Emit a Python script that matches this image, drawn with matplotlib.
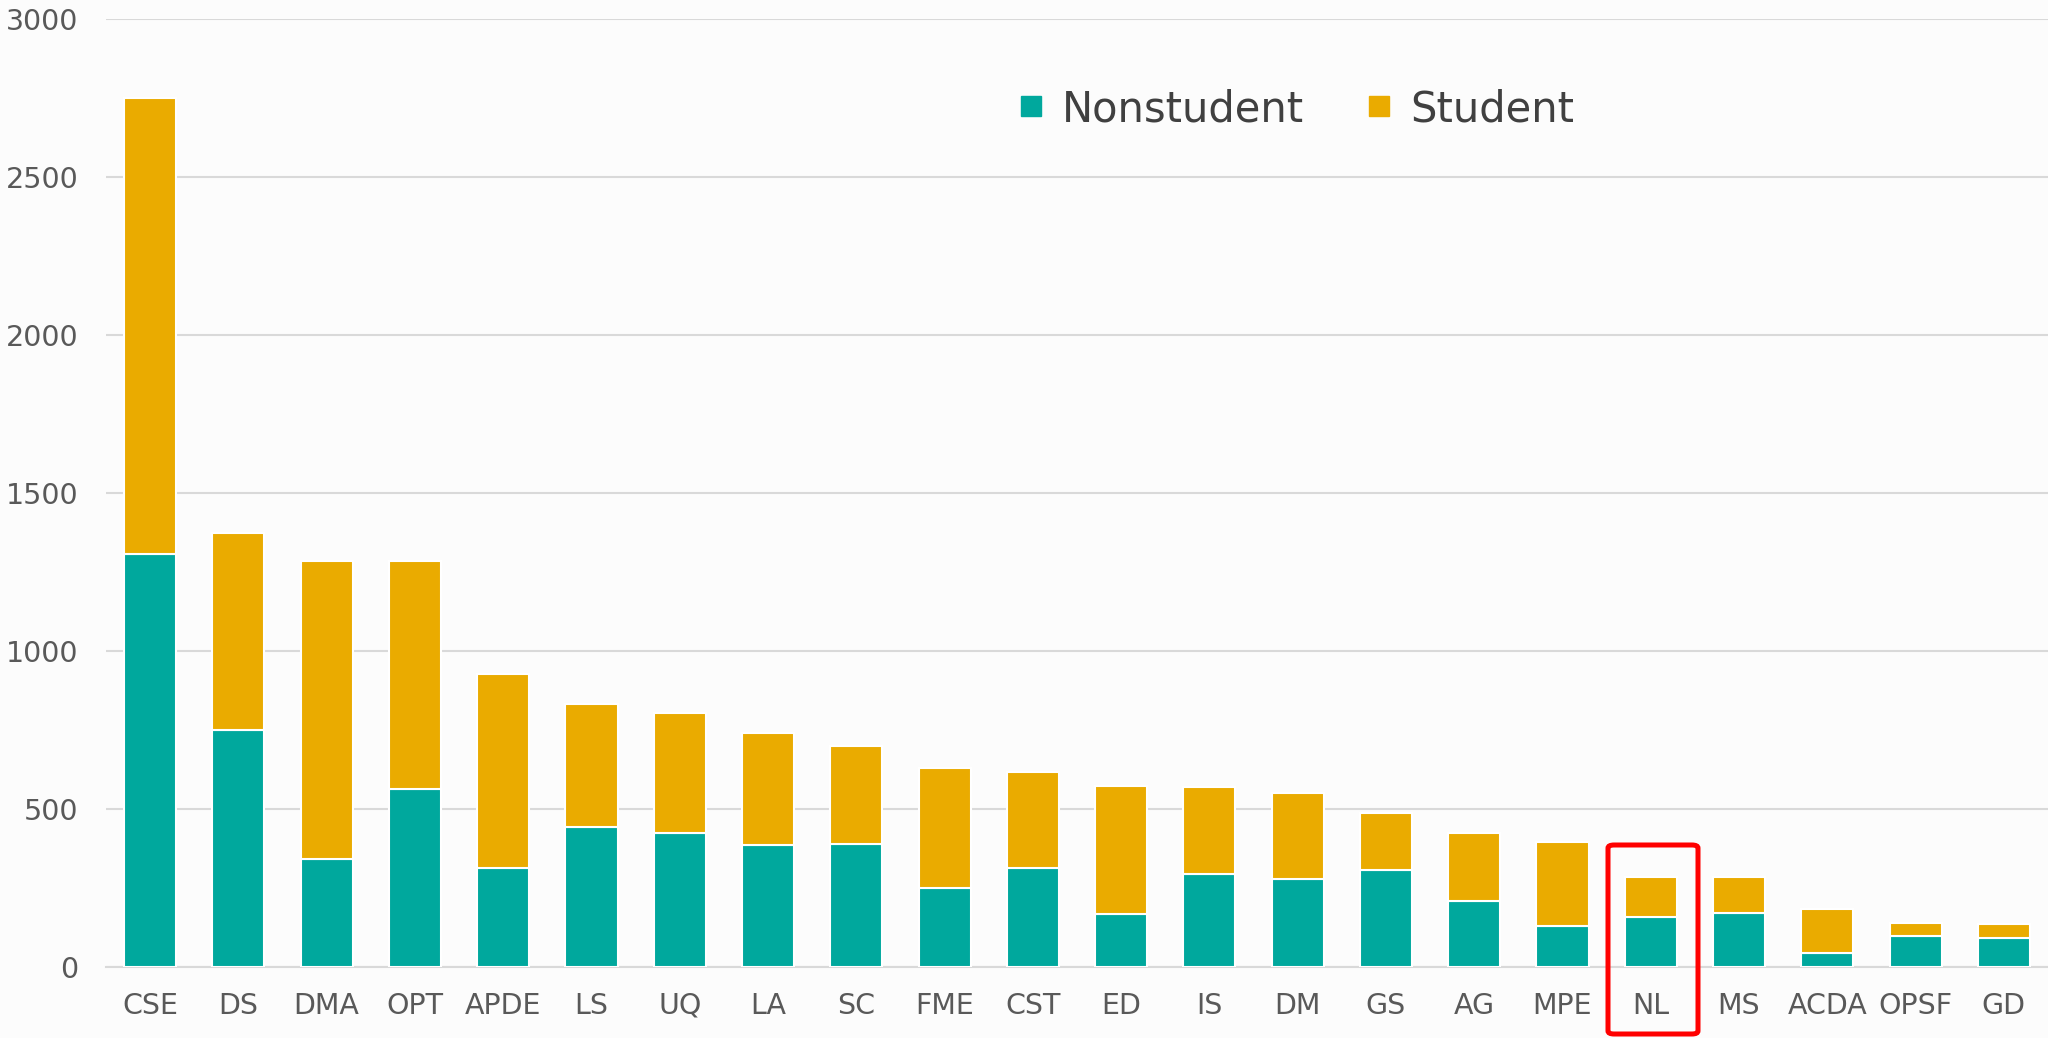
import numpy as np
import matplotlib.pyplot as plt
from matplotlib.lines import Line2D
from matplotlib.patches import FancyBboxPatch

plt.rcParams['font.family'] = ['DejaVu Sans']

# data
groups = ['CSE', 'DS', 'DMA', 'OPT', 'APDE', 'LS', 'UQ', 'LA', 'SC', 'FME', 'CST',
          'ED', 'IS', 'DM', 'GS', 'AG', 'MPE', 'NL', 'MS', 'ACDA', 'OPSF', 'GD']
nonstudent = [1306, 750, 341, 563, 313, 443, 423, 386, 389, 250, 313,
              168, 294, 277, 307, 208, 130, 157, 170, 43, 98, 91]
student = [1442, 621, 943, 720, 613, 389, 379, 354, 308, 378, 304,
           405, 274, 272, 180, 215, 264, 128, 113, 139, 39, 45]
yticks = [0, 500, 1000, 1500, 2000, 2500, 3000]

teal = '#00A89D'
gold = '#EAAB00'
grid_c = '#D9D9D9'
text_c = '#595959'
bg = '#FCFCFC'

fig = plt.figure(figsize=(20.48, 10.38), dpi=100, facecolor=bg)
ax = fig.add_axes([106 / 2048, 1 - 966.7 / 1038, 1 - 106 / 2048, (966.7 - 18.7) / 1038])
ax.set_facecolor(bg)

x = np.arange(len(groups))
w = 0.59
ax.bar(x, nonstudent, w, color=teal, edgecolor='white', linewidth=1.5, zorder=3)
ax.bar(x, student, w, bottom=nonstudent, color=gold, edgecolor='white', linewidth=1.5, zorder=3)

ax.set_xlim(-0.5, 21.5)
ax.set_ylim(0, 3000)
ax.set_yticks(yticks)
ax.set_xticks(x)
ax.set_xticklabels(groups)
ax.grid(axis='y', color=grid_c, linewidth=1.5, zorder=0)
for s in ['top', 'right', 'left']:
    ax.spines[s].set_visible(False)
ax.spines['bottom'].set_color(grid_c)
ax.spines['bottom'].set_linewidth(1.5)
ax.tick_params(axis='both', length=0, labelsize=20.5, labelcolor=text_c)
ax.tick_params(axis='x', pad=18)
ax.tick_params(axis='y', pad=20)

# legend
handles = [Line2D([], [], marker='s', ls='', color=teal, markersize=15),
           Line2D([], [], marker='s', ls='', color=gold, markersize=15)]
fig.legend(handles, ['Nonstudent', 'Student'], loc='center',
           bbox_to_anchor=(1292 / 2048, 1 - 109 / 1038), ncol=2, frameon=False,
           fontsize=30, labelcolor='#404040', handletextpad=0.25, columnspacing=1.3,
           handlelength=1.0)

# red highlight around NL
box = FancyBboxPatch((1608 / 2048, 1 - 1034 / 1038), 90 / 2048, 189 / 1038,
                     boxstyle='round,pad=0,rounding_size=0.003', transform=fig.transFigure,
                     fill=False, edgecolor='#FF0000', linewidth=3.6, clip_on=False)
fig.patches.append(box)

plt.savefig('out.png', dpi=100, facecolor=bg)
